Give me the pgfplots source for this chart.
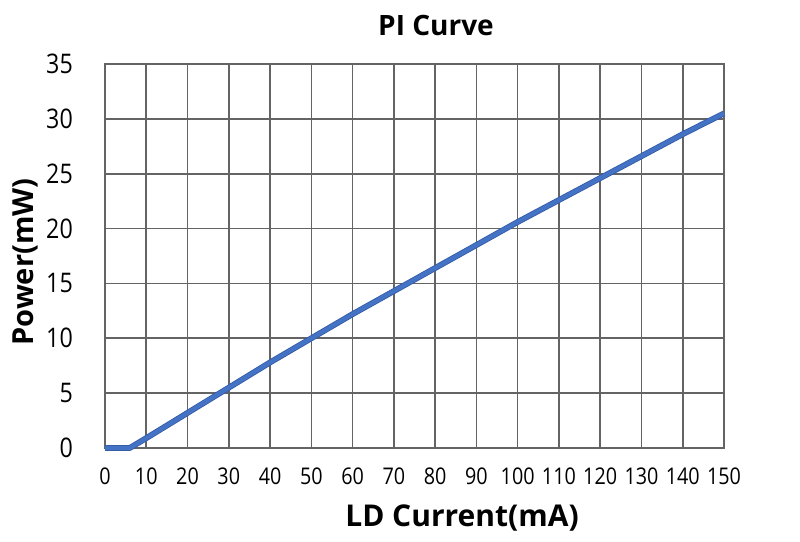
\documentclass[border=0pt]{standalone}
\usepackage{fontspec}
\setmainfont{Open Sans}
\newfontfamily\tickfont[FakeStretch=0.86]{Open Sans}
\usepackage{pgfplots}
\pgfplotsset{compat=1.18}
\definecolor{lineblue}{RGB}{68,114,196}
\definecolor{lineedge}{RGB}{50,90,165}
\definecolor{gridgray}{RGB}{100,100,100}
\begin{document}
\begin{tikzpicture}[x=1bp,y=1bp]
\path (0,0) rectangle (800,542);
\begin{axis}[
  at={(105bp,94bp)}, anchor=south west,
  scale only axis, width=619bp, height=384bp,
  xmin=0, xmax=150, ymin=0, ymax=35,
  xtick={0,10,...,150}, ytick={0,5,...,35},
  grid=major,
  major grid style={draw=gridgray, line width=1.6bp},
  axis line style={draw=gridgray, line width=1.6bp},
  major tick length=0pt,
  /pgf/number format/assume math mode=true,
  tick label style={inner sep=0pt},
  xticklabel style={font=\tickfont\fontsize{23bp}{27bp}\selectfont, anchor=north, yshift=-20bp},
  yticklabel style={font=\tickfont\fontsize{27bp}{31bp}\selectfont, anchor=east, xshift=-32bp},
  clip=false,
]
\addplot[lineedge, line width=5.8bp, line join=round] coordinates {
 (0,0) (6,0) (10,0.9) (20,3.2) (30,5.5) (40,7.8) (50,10.0) (60,12.2) (70,14.3) (80,16.4) (90,18.5) (100,20.6) (110,22.6) (120,24.6) (130,26.6) (140,28.6) (150,30.5)
};
\addplot[lineblue, line width=4.2bp, line join=round] coordinates {
 (0,0) (6,0) (10,0.9) (20,3.2) (30,5.5) (40,7.8) (50,10.0) (60,12.2) (70,14.3) (80,16.4) (90,18.5) (100,20.6) (110,22.6) (120,24.6) (130,26.6) (140,28.6) (150,30.5)
};
\end{axis}
\node[font=\fontsize{28bp}{32bp}\selectfont\bfseries] at (436,516) {PI Curve};
\node[font=\fontsize{30bp}{35bp}\selectfont\bfseries] at (462,24) {LD Current(mA)};
\node[font=\fontsize{29bp}{34bp}\selectfont\bfseries, rotate=90] at (25,280) {Power(mW)};
\end{tikzpicture}
\end{document}
